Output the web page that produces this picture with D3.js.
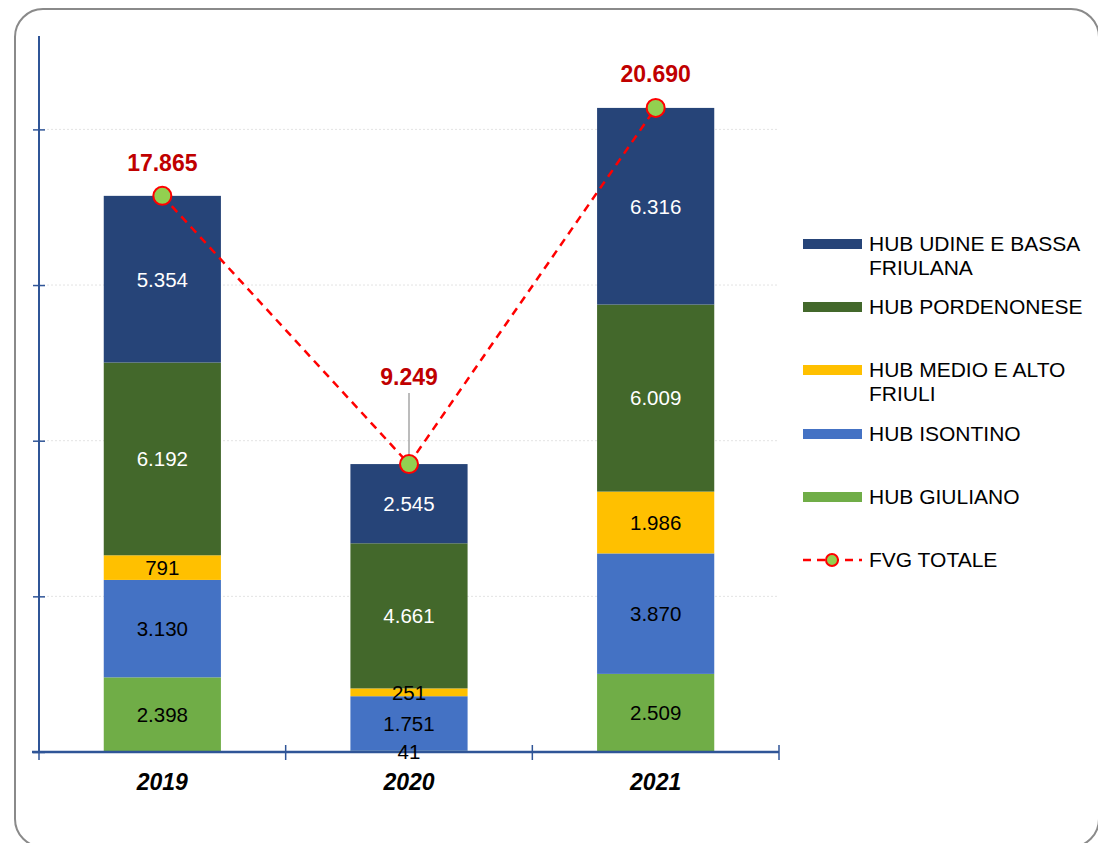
<!DOCTYPE html>
<html>
<head>
<meta charset="utf-8">
<script src="https://cdn.jsdelivr.net/npm/d3@7"></script>
<style>
  html, body { margin: 0; padding: 0; background: #fff; }
  svg { display: block; font-family: "Liberation Sans", Arial, sans-serif; }
</style>
</head>
<body>
<svg id="chart" width="1098" height="843"></svg>
<script>
// ---- data ----
const years = ["2019", "2020", "2021"];
const seriesNames = ["HUB GIULIANO", "HUB ISONTINO", "HUB MEDIO E ALTO FRIULI", "HUB PORDENONESE", "HUB UDINE E BASSA FRIULANA"];
const hubGiuliano = [2398, 41, 2509];
const hubIsontino = [3130, 1751, 3870];
const hubMedioAlto = [791, 251, 1986];
const hubPordenonese = [6192, 4661, 6009];
const hubUdine = [5354, 2545, 6316];
const fvgTotale = [17865, 9249, 20690];
const yTicks = [0, 5000, 10000, 15000, 20000];
const totalName = "FVG TOTALE";

// ---- styling ----
const colors = ["#70AD47", "#4472C4", "#FFC000", "#43682B", "#264478"];
const labelColors = ["#000", "#000", "#000", "#fff", "#fff"];
const axisColor = "#2F5597";

const svg = d3.select("#chart");

// frame
svg.append("rect")
  .attr("x", 15).attr("y", 9).attr("width", 1084).attr("height", 838)
  .attr("rx", 28).attr("ry", 28)
  .attr("fill", "none").attr("stroke", "#8a8a8a").attr("stroke-width", 2);

const x = d3.scaleBand().domain(years).range([39, 779]).padding(0);
const y = d3.scaleLinear().domain([0, 23000]).range([752, 36]);
const barW = x.bandwidth() * 0.475;
const cx = d => x(d) + x.bandwidth() / 2;

const it = d3.formatLocale({decimal: ",", thousands: ".", grouping: [3], currency: ["€", ""]});
const fmt = it.format(",d");

// gridlines
svg.append("g").selectAll("line")
  .data(yTicks.filter(t => t > 0))
  .join("line")
  .attr("x1", 39).attr("x2", 779)
  .attr("y1", d => y(d)).attr("y2", d => y(d))
  .attr("stroke", "#e3e3e3").attr("stroke-width", 1).attr("stroke-dasharray", "2,2");

// stacked data
const seriesVals = [hubGiuliano, hubIsontino, hubMedioAlto, hubPordenonese, hubUdine];
const table = years.map((yr, i) => {
  const o = {year: yr};
  seriesNames.forEach((s, k) => o[s] = seriesVals[k][i]);
  return o;
});
const stacked = d3.stack().keys(seriesNames)(table);

const gBars = svg.append("g");
stacked.forEach((layer, k) => {
  gBars.append("g").selectAll("rect")
    .data(layer)
    .join("rect")
    .attr("x", d => cx(d.data.year) - barW / 2)
    .attr("width", barW)
    .attr("y", d => y(d[1]))
    .attr("height", d => y(d[0]) - y(d[1]))
    .attr("fill", colors[k]);
});

// axes
const yAxis = d3.axisLeft(y).tickValues(yTicks).tickFormat("").tickSize(6).tickSizeOuter(0);
const gy = svg.append("g").attr("transform", "translate(39,0)").call(yAxis);
gy.select(".domain").attr("stroke", axisColor).attr("stroke-width", 2);
gy.selectAll(".tick line").attr("stroke", axisColor).attr("stroke-width", 1.5).attr("x2", 6).attr("x1", -6);
gy.select(".domain").attr("d", `M0,${y(23000)}V${y(0)}`);

const xAxis = d3.axisBottom(x).tickSize(0).tickFormat("");
const gx = svg.append("g").attr("transform", "translate(0,752)").call(xAxis);
gx.select(".domain").attr("stroke", axisColor).attr("stroke-width", 2.5).attr("d", "M32,0H779");
gx.selectAll(".tick").remove();
gx.selectAll("line.xt")
  .data([39, ...years.map(d => x(d) + x.bandwidth())])
  .join("line")
  .attr("class", "xt")
  .attr("x1", d => d).attr("x2", d => d)
  .attr("y1", -7).attr("y2", 8)
  .attr("stroke", axisColor).attr("stroke-width", 1.5);

// category labels
svg.append("g").selectAll("text")
  .data(years)
  .join("text")
  .attr("x", d => cx(d))
  .attr("y", 790)
  .attr("text-anchor", "middle")
  .attr("font-size", 23)
  .attr("font-weight", "bold")
  .attr("font-style", "italic")
  .attr("fill", "#000")
  .text(d => d);

// segment labels
stacked.forEach((layer, k) => {
  svg.append("g").selectAll("text")
    .data(layer)
    .join("text")
    .attr("x", d => cx(d.data.year))
    .attr("y", d => (y(d[0]) + y(d[1])) / 2)
    .attr("dy", "0.36em")
    .attr("text-anchor", "middle")
    .attr("font-size", 20.5)
    .attr("fill", labelColors[k])
    .text(d => fmt(d[1] - d[0]));
});

// total line
const totals = years.map((yr, i) => ({year: yr, v: fvgTotale[i]}));
svg.append("path")
  .datum(totals)
  .attr("d", d3.line().x(d => cx(d.year)).y(d => y(d.v)))
  .attr("fill", "none")
  .attr("stroke", "#FF0000")
  .attr("stroke-width", 2.5)
  .attr("stroke-dasharray", "8,6");

// leader line for 2020 total label
const lblOffset = [25, 79, 26];
svg.append("line")
  .attr("x1", cx("2020")).attr("x2", cx("2020"))
  .attr("y1", y(fvgTotale[1]) - 71).attr("y2", y(fvgTotale[1]))
  .attr("stroke", "#a6a6a6").attr("stroke-width", 1.5);

svg.append("g").selectAll("circle")
  .data(totals)
  .join("circle")
  .attr("cx", d => cx(d.year))
  .attr("cy", d => y(d.v))
  .attr("r", 9)
  .attr("fill", "#92D050")
  .attr("stroke", "#FF0000")
  .attr("stroke-width", 2);

svg.append("g").selectAll("text")
  .data(totals)
  .join("text")
  .attr("x", d => cx(d.year))
  .attr("y", (d, i) => y(d.v) - lblOffset[i])
  .attr("text-anchor", "middle")
  .attr("font-size", 23)
  .attr("font-weight", "bold")
  .attr("fill", "#C00000")
  .text(d => fmt(d.v));

// legend
const legendItems = [
  {name: seriesNames[4], color: colors[4], lines: ["HUB UDINE E BASSA", "FRIULANA"], y: 244},
  {name: seriesNames[3], color: colors[3], lines: ["HUB PORDENONESE"], y: 307},
  {name: seriesNames[2], color: colors[2], lines: ["HUB MEDIO E ALTO", "FRIULI"], y: 370},
  {name: seriesNames[1], color: colors[1], lines: ["HUB ISONTINO"], y: 434},
  {name: seriesNames[0], color: colors[0], lines: ["HUB GIULIANO"], y: 497}
];
const gl = svg.append("g");
legendItems.forEach(it => {
  gl.append("rect").attr("x", 803).attr("y", it.y - 5).attr("width", 59).attr("height", 10).attr("fill", it.color);
  const t = gl.append("text").attr("x", 869).attr("y", it.y + 7).attr("font-size", 21).attr("fill", "#000");
  it.lines.forEach((ln, j) => {
    t.append("tspan").attr("x", 869).attr("dy", j === 0 ? 0 : 24).text(ln);
  });
});
gl.append("line").attr("x1", 803).attr("x2", 862).attr("y1", 560).attr("y2", 560)
  .attr("stroke", "#FF0000").attr("stroke-width", 2.5).attr("stroke-dasharray", "8,6");
gl.append("circle").attr("cx", 832).attr("cy", 560).attr("r", 6)
  .attr("fill", "#92D050").attr("stroke", "#FF0000").attr("stroke-width", 2);
gl.append("text").attr("x", 869).attr("y", 567).attr("font-size", 21).attr("fill", "#000").text(totalName);
</script>
</body>
</html>
